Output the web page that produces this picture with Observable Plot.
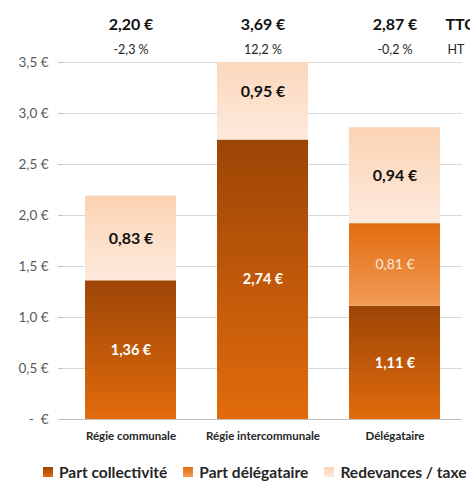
<!DOCTYPE html>
<html><head><meta charset="utf-8">
<script src="https://cdn.jsdelivr.net/npm/d3@7"></script>
<script src="https://cdn.jsdelivr.net/npm/@observablehq/plot@0.6"></script>
<style>
html,body{margin:0;padding:0;background:#fff;overflow:hidden;}
body{width:470px;height:482px;font-family:Lato,"Open Sans",sans-serif;}
#legend{display:flex;white-space:nowrap;gap:0;margin-left:43px;margin-top:11px;font-size:15.5px;font-weight:700;color:#262626;}
#legend span.item{display:inline-flex;align-items:center;margin-right:16px;}
#legend span.sw{display:inline-block;width:10px;height:10px;margin-right:6px;}
</style>
</head><body>
<div id="chart"></div>
<div id="legend"></div>
<script>
const categories = ["Régie communale", "Régie intercommunale", "Délégataire"];
const parts = ["Part collectivité", "Part délégataire", "Redevances / taxe"];
const partCollectivite = [1.36, 2.74, 1.11];
const partDelegataire = [0, 0, 0.81];
const redevances = [0.83, 0.95, 0.94];
const totalTTC = [2.20, 3.69, 2.87];
const evolution = ["-2,3 %", "12,2 %", "-0,2 %"];
const yTicks = [0, 0.5, 1, 1.5, 2, 2.5, 3, 3.5];

const gradIds = ["gColl", "gDel", "gRed"];
const gradStops = [["#9c4506", "#e26b0c"], ["#e26c0e", "#f29c58"], ["#fbd3b3", "#fdeadd"]];

const series = [partCollectivite, partDelegataire, redevances];
const rows = [];
categories.forEach((c, i) => {
  let base = 0;
  series.forEach((s, k) => {
    const v = s[i];
    if (v > 0) rows.push({cat: c, part: parts[k], value: v, y1: base, y2: base + v, mid: base + v / 2});
    base += v;
  });
});
const fmt = v => v.toFixed(2).replace(".", ",") + " €";
const tops = categories.map((c, i) => ({cat: c, ttc: fmt(totalTTC[i]), evo: evolution[i]}));

const plot = Plot.plot({
  width: 470,
  height: 452,
  marginLeft: 63,
  marginRight: 8,
  marginTop: 62,
  marginBottom: 33,
  style: {fontFamily: "Lato, 'Open Sans', sans-serif", background: "#fff", overflow: "visible"},
  x: {domain: categories, paddingInner: 0.31, paddingOuter: 0.16, label: null, tickSize: 0},
  y: {domain: [0, 3.5], ticks: yTicks, label: null},
  color: {domain: parts, range: gradIds.map(id => `url(#${id})`)},
  marks: [
    Plot.gridY(yTicks, {stroke: "#d9d9d9", strokeOpacity: 1, strokeWidth: 1}),
    Plot.barY(rows, {x: "cat", y1: "y1", y2: "y2", fill: "part", clip: true}),
    Plot.ruleY([0], {stroke: "#bfbfbf", strokeWidth: 1}),
    Plot.ruleX([0], {frameAnchor: "left", stroke: "#bfbfbf"}),
    Plot.axisY({ticks: yTicks, tickFormat: d => d === 0 ? "-  €" : d.toFixed(1).replace(".", ",") + " €",
      tickSize: 5, stroke: "#bfbfbf", fontSize: 13.5, fill: "#595959", tickPadding: 10}),
    Plot.axisX({tickSize: 0, fontSize: 11.5, fontWeight: 700, fill: "#262626", tickPadding: 12}),
    Plot.text(rows.filter(d => d.part === parts[0]), {x: "cat", y: "mid", text: d => fmt(d.value), fill: "white", fontWeight: 700, fontSize: 14.5}),
    Plot.text(rows.filter(d => d.part === parts[1]), {x: "cat", y: "mid", text: d => fmt(d.value), fill: "#fde9dc", fontWeight: 400, fontSize: 14}),
    Plot.text(rows.filter(d => d.part === parts[2]), {x: "cat", y: d => d.mid, text: d => fmt(d.value), fill: "#111", fontWeight: 700, fontSize: 16}),
    Plot.text(tops, {x: "cat", frameAnchor: "top", dy: -44, text: "ttc", fontWeight: 700, fontSize: 16, fill: "#111"}),
    Plot.text(tops, {x: "cat", frameAnchor: "top", dy: -17, text: "evo", fontSize: 12.5, fill: "#262626"}),
    Plot.text(["TTC"], {frameAnchor: "top-right", dx: -17, dy: -44, textAnchor: "start", text: d => d, fontWeight: 700, fontSize: 16, fill: "#111"}),
    Plot.text(["HT"], {frameAnchor: "top-right", dx: -15, dy: -17, textAnchor: "start", text: d => d, fontSize: 12.5, fill: "#262626"})
  ]
});

const svg = d3.select(plot);
const defs = svg.insert("defs", ":first-child");
gradIds.forEach((id, k) => {
  const g = defs.append("linearGradient").attr("id", id).attr("x1", 0).attr("y1", 0).attr("x2", 0).attr("y2", 1);
  g.append("stop").attr("offset", "0%").attr("stop-color", gradStops[k][0]);
  g.append("stop").attr("offset", "100%").attr("stop-color", gradStops[k][1]);
});
document.getElementById("chart").appendChild(plot);

const legend = d3.select("#legend");
parts.forEach((p, k) => {
  const it = legend.append("span").attr("class", "item");
  it.append("span").attr("class", "sw").style("background", `linear-gradient(${gradStops[k][0]}, ${gradStops[k][1]})`);
  it.append("span").text(p);
});
</script>
</body></html>
